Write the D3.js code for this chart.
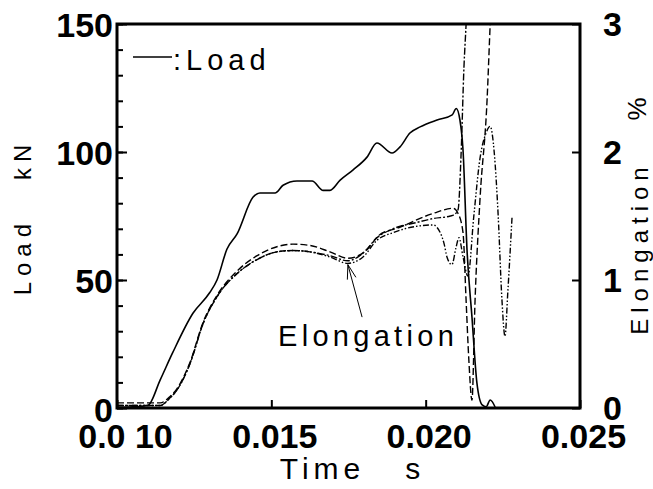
<!DOCTYPE html>
<html>
<head>
<meta charset="utf-8">
<script src="https://cdn.jsdelivr.net/npm/d3@7"></script>
<style>
  body { margin: 0; background: #fff; }
  svg { display: block; }
  .tick-label { font-family: "Liberation Sans", Arial, sans-serif; font-weight: bold; font-size: 34px; fill: #000; }
  .title { font-family: "Liberation Sans", Arial, sans-serif; fill: #000; white-space: pre; }
</style>
</head>
<body>
<div id="wrapper"></div>
<script>
// data
const loadTime = [0.0100, 0.0105, 0.0110, 0.0114, 0.0118, 0.01246, 0.0130, 0.01324, 0.01356, 0.01389,
  0.01441, 0.01463, 0.01512, 0.01538, 0.01583, 0.01632, 0.01668, 0.01690, 0.01723, 0.01765,
  0.01810, 0.01842, 0.01891, 0.01917, 0.01949, 0.01982, 0.02037, 0.02086, 0.02099, 0.02111,
  0.02121, 0.02134, 0.02150, 0.02166, 0.02183, 0.02196, 0.02209, 0.02225]
const loadKN = [0.3, 0.5, 1, 11, 21.5, 37, 45, 50, 62, 68,
  82.4, 84, 84, 87, 88.7, 88.7, 85, 85, 89, 93,
  98, 103.5, 99.6, 102, 107.4, 109.8, 112.5, 114.5, 117, 112.5,
  100.8, 61.7, 35.5, 9.8, 1.2, 0.5, 3.1, 0.4]

const elongDashTime = [0.0100, 0.0114, 0.01172, 0.01194, 0.01237, 0.01279, 0.01324, 0.01389, 0.01454, 0.01518,
  0.01570, 0.01625, 0.01690, 0.01748, 0.01807, 0.01849, 0.01914, 0.02024, 0.02089, 0.02105,
  0.02121, 0.02131, 0.02140, 0.02150, 0.02160, 0.02176, 0.02199, 0.02209, 0.02218]
const elongDash = [0.04, 0.04, 0.09, 0.15, 0.36, 0.67, 0.88, 1.07, 1.19, 1.26,
  1.28, 1.27, 1.22, 1.17, 1.23, 1.35, 1.41, 1.52, 1.56, 1.52,
  1.37, 0.84, 0.37, 0.06, 0.84, 1.63, 2.41, 3.0, 3.5]

const elongDashDotTime = [0.0100, 0.0114, 0.01172, 0.01194, 0.01237, 0.01279, 0.01324, 0.01389, 0.01454, 0.01518,
  0.01570, 0.01625, 0.01690, 0.01748, 0.01797, 0.01842, 0.01894, 0.01972, 0.02024, 0.02080,
  0.02092, 0.02105, 0.02115, 0.02124, 0.02131, 0.02140]
const elongDashDot = [0.02, 0.02, 0.08, 0.14, 0.35, 0.66, 0.87, 1.05, 1.16, 1.22,
  1.23, 1.22, 1.19, 1.15, 1.21, 1.33, 1.40, 1.45, 1.48, 1.50,
  1.51, 1.55, 2.0, 2.66, 3.0, 3.5]

const elongDotTime = [0.0100, 0.0114, 0.01172, 0.01194, 0.01237, 0.01279, 0.01324, 0.01389, 0.01454, 0.01518,
  0.01570, 0.01625, 0.01690, 0.01748, 0.01797, 0.01842, 0.01894, 0.01972, 0.02024, 0.02037,
  0.02060, 0.02069, 0.02085, 0.02098, 0.02108, 0.02121, 0.02137, 0.02156, 0.02176, 0.02196,
  0.02209, 0.02222, 0.02235, 0.02247, 0.02257, 0.02266, 0.02280]
const elongDot = [0.02, 0.02, 0.08, 0.14, 0.35, 0.66, 0.87, 1.05, 1.16, 1.22,
  1.23, 1.22, 1.18, 1.13, 1.18, 1.31, 1.37, 1.42, 1.43, 1.41,
  1.28, 1.18, 1.12, 1.25, 1.33, 1.18, 1.03, 1.5, 1.95, 2.15,
  2.2, 2.0, 1.5, 0.85, 0.56, 0.9, 1.5]

const xTicks = [0.010, 0.015, 0.020, 0.025]
const xTickLabels = ["0.0 10", "0.015", "0.020", "0.025"]
const loadTicks = [0, 50, 100, 150]
const loadMinorTicks = d3.range(0, 151, 10)
const elongTicks = [0, 1, 2, 3]

// dimensions
const width = 653, height = 489
const margin = {top: 24, right: 73, bottom: 81, left: 117}
const innerW = width - margin.left - margin.right
const innerH = height - margin.top - margin.bottom

const svg = d3.select("#wrapper").append("svg")
    .attr("width", width)
    .attr("height", height)

// scales
const x = d3.scaleLinear().domain([0.010, 0.025]).range([margin.left, margin.left + innerW])
const yLoad = d3.scaleLinear().domain([0, 150]).range([margin.top + innerH, margin.top])
const yElong = d3.scaleLinear().domain([0, 3]).range([margin.top + innerH, margin.top])

svg.append("clipPath").attr("id", "plot-clip")
  .append("rect")
    .attr("x", margin.left).attr("y", margin.top)
    .attr("width", innerW).attr("height", innerH)

// axes
const styleAxis = g => {
  g.select(".domain").remove()
  g.selectAll(".tick line").attr("stroke", "#000").attr("stroke-width", 2)
}
const boldLabels = g => g.selectAll("text")
    .attr("class", "tick-label").attr("font-size", null).attr("font-family", null)

svg.append("g")
    .attr("transform", `translate(${margin.left},0)`)
    .call(d3.axisLeft(yLoad).tickValues(loadMinorTicks).tickSize(-6).tickFormat(""))
    .call(styleAxis)

svg.append("g")
    .attr("transform", `translate(${margin.left},0)`)
    .call(d3.axisLeft(yLoad).tickValues(loadTicks).tickSize(-10).tickPadding(6))
    .call(styleAxis)
    .call(boldLabels)
    .call(g => g.selectAll("text").attr("dx", 2).attr("dy", d => d === 0 ? "0.4em" : "0.36em"))

svg.append("g")
    .attr("transform", `translate(${margin.left + innerW},0)`)
    .call(d3.axisRight(yElong).tickValues(elongTicks).tickSize(-8).tickPadding(23).tickFormat(d3.format("d")))
    .call(styleAxis)
    .call(boldLabels)
    .call(g => g.selectAll("text").attr("dy", "0.34em"))

svg.append("g")
    .attr("transform", `translate(0,${margin.top + innerH})`)
    .call(d3.axisBottom(x).tickValues(xTicks).tickSize(-8).tickPadding(16)
      .tickFormat((d, i) => xTickLabels[i]))
    .call(styleAxis)
    .call(boldLabels)
    .call(g => g.selectAll("text").attr("dx", (d, i) => i === 0 ? 8 : 3).attr("dy", "0.72em"))

// frame
svg.append("rect")
    .attr("x", margin.left).attr("y", margin.top)
    .attr("width", innerW).attr("height", innerH)
    .attr("fill", "none").attr("stroke", "#000").attr("stroke-width", 3)

// lines
const plot = svg.append("g").attr("clip-path", "url(#plot-clip)")

const loadLine = d3.line()
    .x((d, i) => x(loadTime[i]))
    .y(d => yLoad(d))
    .curve(d3.curveMonotoneX)

plot.append("path")
    .attr("d", loadLine(loadKN))
    .attr("fill", "none").attr("stroke", "#000").attr("stroke-width", 1.6)

const elongSeries = [
  {time: elongDashTime, values: elongDash, dash: "7,3"},
  {time: elongDashDotTime, values: elongDashDot, dash: "7,2,2,2"},
  {time: elongDotTime, values: elongDot, dash: "6,2,1.5,2,1.5,2"},
]

elongSeries.forEach(s => {
  const line = d3.line()
      .x((d, i) => x(s.time[i]))
      .y(d => yElong(d))
      .curve(d3.curveMonotoneX)
  plot.append("path")
      .attr("d", line(s.values))
      .attr("fill", "none").attr("stroke", "#000").attr("stroke-width", 1.4)
      .attr("stroke-dasharray", s.dash)
})

// titles
svg.append("text")
    .attr("class", "title")
    .attr("transform", `translate(31,217) rotate(-90)`)
    .attr("text-anchor", "middle")
    .attr("font-size", 24).attr("letter-spacing", 6)
    .text("Load   kN")

svg.append("text")
    .attr("class", "title")
    .attr("transform", `translate(648,248) rotate(-90)`)
    .attr("text-anchor", "middle")
    .attr("font-size", 24).attr("letter-spacing", 6)
    .text("Elongation")

svg.append("text")
    .attr("class", "title")
    .attr("transform", `translate(646,109) rotate(-90)`)
    .attr("text-anchor", "middle")
    .attr("font-size", 26)
    .text("%")

svg.append("text")
    .attr("class", "title")
    .attr("x", margin.left + innerW / 2 + 4).attr("y", 479)
    .attr("text-anchor", "middle")
    .attr("font-size", 30).attr("letter-spacing", 5)
    .text("Time   s")

// legend
svg.append("line")
    .attr("x1", 133).attr("x2", 172).attr("y1", 57).attr("y2", 57)
    .attr("stroke", "#000").attr("stroke-width", 1.6)
svg.append("text")
    .attr("class", "title")
    .attr("x", 173).attr("y", 70)
    .attr("font-size", 29).attr("letter-spacing", 5)
    .text(":Load")

// annotation
const tip = [x(0.01748), yElong(1.12)]
const tail = [x(0.01794), yElong(0.71)]
svg.append("line")
    .attr("x1", tail[0]).attr("y1", tail[1]).attr("x2", tip[0]).attr("y2", tip[1])
    .attr("stroke", "#000").attr("stroke-width", 1)
const ang = Math.atan2(tail[1] - tip[1], tail[0] - tip[0])
;[-0.3, 0.3].forEach(a => {
  svg.append("line")
      .attr("x1", tip[0]).attr("y1", tip[1])
      .attr("x2", tip[0] + 15 * Math.cos(ang + a)).attr("y2", tip[1] + 15 * Math.sin(ang + a))
      .attr("stroke", "#000").attr("stroke-width", 1)
})
svg.append("text")
    .attr("class", "title")
    .attr("x", 278).attr("y", 346)
    .attr("font-size", 29).attr("letter-spacing", 4.3)
    .text("Elongation")
</script>
</body>
</html>
